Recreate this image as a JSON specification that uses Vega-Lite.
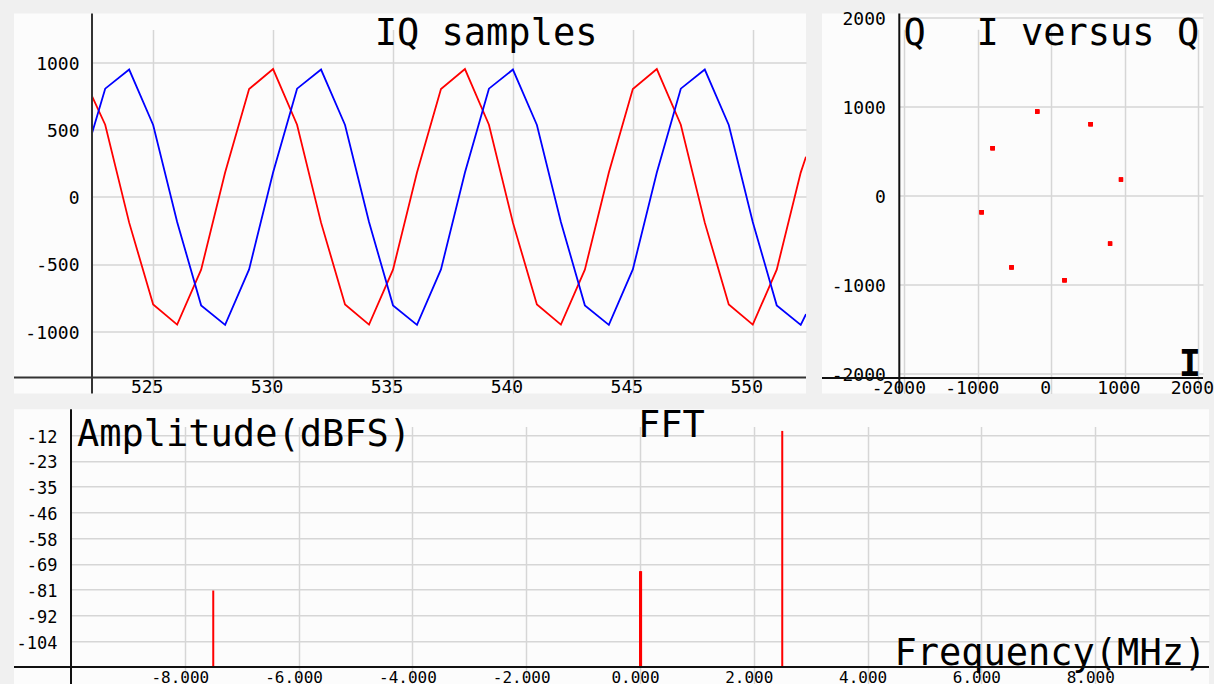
{
  "$schema": "https://vega.github.io/schema/vega-lite/v6.json",
  "background": "#f0f0f0",
  "padding": {"left": 13, "top": 9.6, "right": 0, "bottom": 0},
  "spacing": 7.7,
  "config": {
    "view": {"stroke": null, "fill": "#fcfcfc"},
    "locale": {"number": {"decimal": ".", "thousands": ",", "grouping": [3], "currency": ["$", ""], "minus": "-"}},
    "axis": {
      "labelFont": "DejaVu Sans Mono",
      "labelFontSize": 18,
      "labelColor": "#000000",
      "labelFlush": false,
      "labelOverlap": false,
      "ticks": false,
      "domain": false,
      "tickCount": 12,
      "gridColor": "#d6d6d6",
      "gridWidth": 1.5,
      "gridOpacity": 1,
      "titleFont": "DejaVu Sans Mono",
      "titleFontSize": 37,
      "titleFontWeight": "normal",
      "titleColor": "#000000"
    },
    "text": {"font": "DejaVu Sans Mono", "fontSize": 37, "color": "#000000", "align": "left", "baseline": "alphabetic"}
  },
  "datasets": {
    "iq": [
      {"n": 522.45, "I": 750, "Q": 475},
      {"n": 523, "I": 538, "Q": 806},
      {"n": 524, "I": -190, "Q": 948},
      {"n": 525, "I": -798, "Q": 536},
      {"n": 526, "I": -948, "Q": -185},
      {"n": 527, "I": -540, "Q": -805},
      {"n": 528, "I": 182, "Q": -950},
      {"n": 529, "I": 803, "Q": -538},
      {"n": 530, "I": 952, "Q": 183},
      {"n": 531, "I": 538, "Q": 806},
      {"n": 532, "I": -190, "Q": 948},
      {"n": 533, "I": -798, "Q": 536},
      {"n": 534, "I": -948, "Q": -185},
      {"n": 535, "I": -540, "Q": -805},
      {"n": 536, "I": 182, "Q": -950},
      {"n": 537, "I": 803, "Q": -538},
      {"n": 538, "I": 952, "Q": 183},
      {"n": 539, "I": 538, "Q": 806},
      {"n": 540, "I": -190, "Q": 948},
      {"n": 541, "I": -798, "Q": 536},
      {"n": 542, "I": -948, "Q": -185},
      {"n": 543, "I": -540, "Q": -805},
      {"n": 544, "I": 182, "Q": -950},
      {"n": 545, "I": 803, "Q": -538},
      {"n": 546, "I": 952, "Q": 183},
      {"n": 547, "I": 538, "Q": 806},
      {"n": 548, "I": -190, "Q": 948},
      {"n": 549, "I": -798, "Q": 536},
      {"n": 550, "I": -948, "Q": -185},
      {"n": 551, "I": -540, "Q": -805},
      {"n": 552, "I": 182, "Q": -950},
      {"n": 552.22, "I": 300, "Q": -870}
    ],
    "fft": [
      {"freq": -7.5, "dbfs": -81.3},
      {"freq": 0, "dbfs": -72.6},
      {"freq": 0.0195, "dbfs": -72.6},
      {"freq": 2.5, "dbfs": -9.7}
    ]
  },
  "vconcat": [
    {
      "hconcat": [
        {
          "width": 792,
          "height": 380,
          "layer": [
            {
              "data": {"name": "iq"},
              "transform": [{"fold": ["I", "Q"], "as": ["ch", "v"]}],
              "mark": {"type": "line", "strokeWidth": 1.8, "clip": true},
              "encoding": {
                "x": {
                  "field": "n", "type": "quantitative",
                  "scale": {"domain": [522.45, 552.22], "range": [78, 792], "nice": false, "zero": false},
                  "axis": {"orient": "bottom", "offset": -16, "values": [525, 530, 535, 540, 545, 550], "format": "d", "labelOffset": -6.5, "labelPadding": 1, "grid": true, "title": null}
                },
                "y": {
                  "field": "v", "type": "quantitative",
                  "scale": {"domain": [-1342, 1364], "range": [364, 0], "nice": false, "zero": false},
                  "axis": {"orient": "left", "offset": -78, "values": [-1000, -500, 0, 500, 1000], "format": "d", "labelPadding": 13, "labelOffset": 1.5, "grid": true, "title": null}
                },
                "color": {"field": "ch", "type": "nominal", "scale": {"domain": ["I", "Q"], "range": ["#ff0000", "#0000ff"]}, "legend": null}
              }
            },
            {
              "data": {"values": [{}]},
              "mark": {"type": "rule", "color": "#333333", "strokeWidth": 2},
              "encoding": {"y": {"datum": -1342, "type": "quantitative"}}
            },
            {
              "data": {"values": [{}]},
              "mark": {"type": "rule", "color": "#333333", "strokeWidth": 2},
              "encoding": {"x": {"datum": 522.45, "type": "quantitative"}}
            },
            {
              "data": {"values": [{"label": "IQ samples"}]},
              "mark": {"type": "text"},
              "encoding": {
                "x": {"datum": 534.24, "type": "quantitative"},
                "y": {"datum": 1133.6, "type": "quantitative"},
                "text": {"field": "label"}
              }
            }
          ]
        },
        {
          "width": 381,
          "height": 380,
          "layer": [
            {
              "data": {"name": "iq"},
              "transform": [{"filter": "datum.n == floor(datum.n)"}],
              "mark": {"type": "square", "color": "#ff0000", "size": 18, "opacity": 1},
              "encoding": {
                "x": {
                  "field": "I", "type": "quantitative",
                  "scale": {"domain": [-2070, 2070], "range": [77.3, 381], "nice": false, "zero": false},
                  "axis": {"orient": "bottom", "offset": -15.7, "values": [-2000, -1000, 0, 1000, 2000], "format": "d", "labelOffset": -6, "labelPadding": 2, "grid": true,
                    "title": "I", "titleX": 367.3, "titleY": -2.3, "titleAlign": "center", "titleBaseline": "alphabetic", "titleAngle": 0, "titleFontWeight": "bold"}
                },
                "y": {
                  "field": "Q", "type": "quantitative",
                  "scale": {"domain": [-2049, 2050], "range": [364.3, 0], "nice": false, "zero": false},
                  "axis": {"orient": "left", "offset": -77.3, "values": [-2000, -1000, 0, 1000, 2000], "format": "d", "labelPadding": 14, "labelOffset": 1.5, "grid": true,
                    "title": "Q", "titleX": 3.7, "titleY": 31, "titleAlign": "left", "titleBaseline": "alphabetic", "titleAngle": 0}
                }
              }
            },
            {
              "data": {"values": [{}]},
              "mark": {"type": "rule", "color": "#111111", "strokeWidth": 2},
              "encoding": {"y": {"datum": -2049, "type": "quantitative"}}
            },
            {
              "data": {"values": [{}]},
              "mark": {"type": "rule", "color": "#111111", "strokeWidth": 2},
              "encoding": {"x": {"datum": -2070, "type": "quantitative"}}
            },
            {
              "data": {"values": [{"label": "I versus Q"}]},
              "mark": {"type": "text"},
              "encoding": {
                "x": {"datum": -1017.6, "type": "quantitative"},
                "y": {"datum": 1701.2, "type": "quantitative"},
                "text": {"field": "label"}
              }
            }
          ]
        }
      ],
      "spacing": 16,
      "bounds": "flush"
    },
    {
      "width": 1195,
      "height": 275,
      "layer": [
        {
          "data": {"name": "fft"},
          "mark": {"type": "rule", "color": "#ff0000", "strokeWidth": 2},
          "encoding": {
            "x": {
              "field": "freq", "type": "quantitative",
              "scale": {"domain": [-10, 10], "range": [57, 1195], "nice": false, "zero": false},
              "axis": {"orient": "bottom", "offset": -17.3, "values": [-8, -6, -4, -2, 0, 2, 4, 6, 8], "format": ".3f", "labelFontSize": 16, "labelOffset": -5, "labelPadding": 3, "grid": true,
                "title": "Frequency(MHz)", "titleX": 1191.7, "titleY": -2.7, "titleAlign": "right", "titleBaseline": "alphabetic", "titleAngle": 0}
            },
            "y": {
              "field": "dbfs", "type": "quantitative",
              "scale": {"domain": [-115.6, 0], "range": [257.7, 0], "nice": false, "zero": false},
              "axis": {"orient": "left", "offset": -57, "values": [-11.56, -23.12, -34.68, -46.24, -57.8, -69.36, -80.92, -92.48, -104.04], "format": ".0f", "tickCount": 12, "labelFontSize": 17, "labelPadding": 14, "labelOffset": 2, "grid": true,
                "title": "Amplitude(dBFS)", "titleX": 5.5, "titleY": 36, "titleAlign": "left", "titleBaseline": "alphabetic", "titleAngle": 0}
            },
            "y2": {"datum": -115.6}
          }
        },
        {
          "data": {"values": [{}]},
          "mark": {"type": "rule", "color": "#111111", "strokeWidth": 2},
          "encoding": {"y": {"datum": -115.6, "type": "quantitative"}}
        },
        {
          "data": {"values": [{}]},
          "mark": {"type": "rule", "color": "#111111", "strokeWidth": 2},
          "encoding": {"x": {"datum": -10, "type": "quantitative"}}
        },
        {
          "data": {"values": [{"label": "FFT"}]},
          "mark": {"type": "text"},
          "encoding": {
            "x": {"datum": -0.035, "type": "quantitative"},
            "y": {"datum": -12.43, "type": "quantitative"},
            "text": {"field": "label"}
          }
        }
      ]
    }
  ]
}
